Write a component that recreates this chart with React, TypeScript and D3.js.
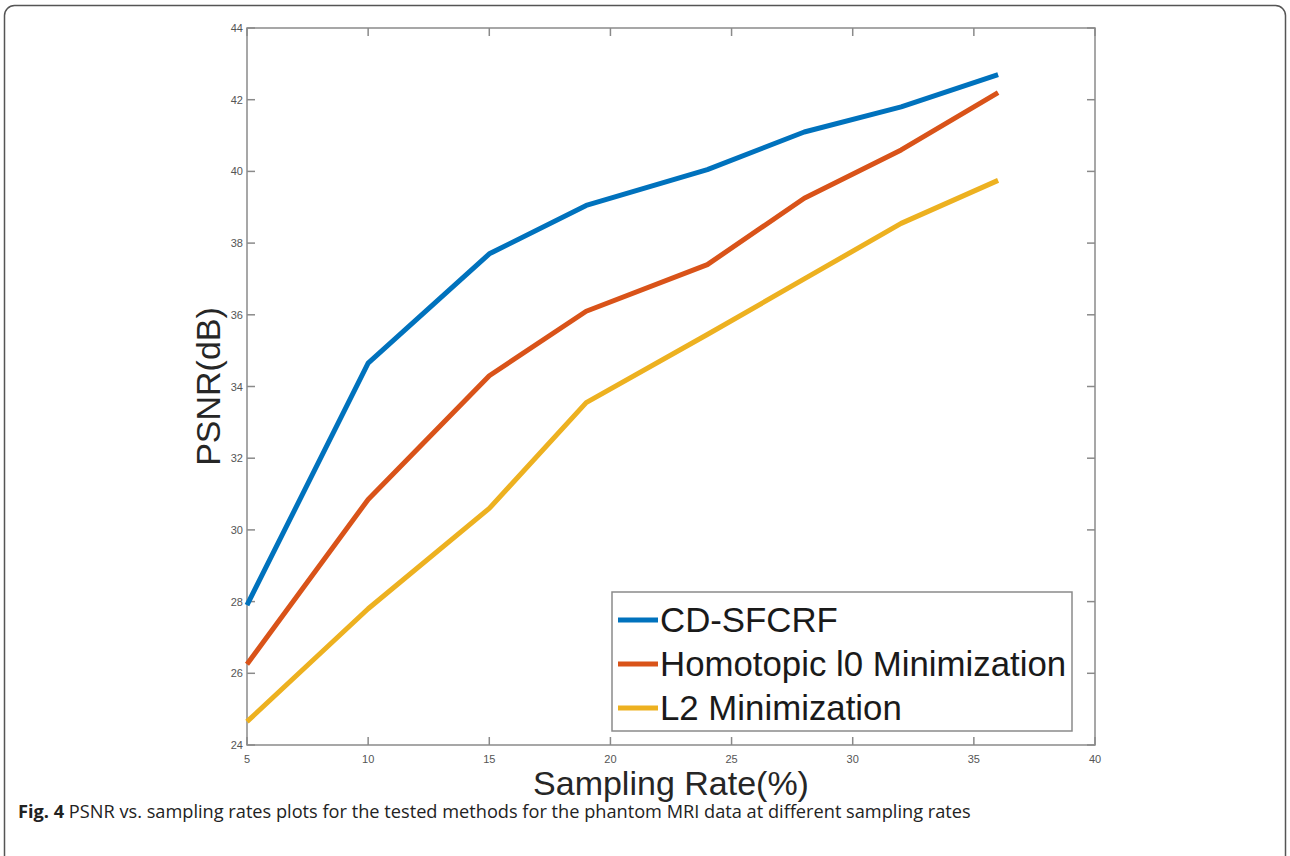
import React from "react";
import * as d3 from "d3";

const samplingRates = [5, 10, 15, 19, 24, 28, 32, 36];
const cdSfcrf = [27.9, 34.65, 37.7, 39.05, 40.05, 41.1, 41.8, 42.7];
const homotopicL0 = [26.25, 30.85, 34.3, 36.1, 37.4, 39.25, 40.6, 42.2];
const l2Min = [24.65, 27.8, 30.6, 33.55, 35.45, 37.0, 38.55, 39.75];
const seriesNames = ["CD-SFCRF", "Homotopic l0 Minimization", "L2 Minimization"];
const seriesColors = ["#0072BD", "#D95319", "#EDB120"];
const xTicks = [5, 10, 15, 20, 25, 30, 35, 40];
const yTicks = [24, 26, 28, 30, 32, 34, 36, 38, 40, 42, 44];

const W = 1290;
const H = 856;
const L = 247, R = 1095, T = 28, B = 745;

export default function App() {
  const x = d3.scaleLinear().domain([5, 40]).range([L, R]);
  const y = d3.scaleLinear().domain([24, 44]).range([B, T]);
  const line = d3
    .line<number>()
    .x((_, i) => x(samplingRates[i]))
    .y((d) => y(d));
  const series = [cdSfcrf, homotopicL0, l2Min];
  const axisColor = "#8a8a8a";
  const tickLen = 8;
  const legend = { x: 612, y: 592, w: 460, h: 139 };
  const rowY = [620, 664, 708];

  return (
    <svg
      width={W}
      height={H}
      style={{ position: "absolute", left: 0, top: 0, background: "#fff" }}
    >
      <rect x={0} y={0} width={W} height={H} fill="#fff" />
      <rect
        x={4.5}
        y={5.5}
        width={1281}
        height={900}
        rx={10}
        ry={10}
        fill="none"
        stroke="#555"
        strokeWidth={1.5}
      />
      {/* axes box */}
      <rect x={L} y={T} width={R - L} height={B - T} fill="none" stroke={axisColor} strokeWidth={1.5} />
      {/* y ticks */}
      {yTicks.map((t) => (
        <g key={"y" + t}>
          <line x1={L} x2={L + tickLen} y1={y(t)} y2={y(t)} stroke={axisColor} strokeWidth={1.5} />
          <line x1={R} x2={R - tickLen} y1={y(t)} y2={y(t)} stroke={axisColor} strokeWidth={1.5} />
          <text
            x={L - 4}
            y={y(t) + 4}
            textAnchor="end"
            fontFamily="Liberation Sans, Arial, sans-serif"
            fontSize={11}
            fill="#555"
          >
            {t}
          </text>
        </g>
      ))}
      {/* x ticks */}
      {xTicks.map((t) => (
        <g key={"x" + t}>
          <line x1={x(t)} x2={x(t)} y1={B} y2={B - tickLen} stroke={axisColor} strokeWidth={1.5} />
          <line x1={x(t)} x2={x(t)} y1={T} y2={T + tickLen} stroke={axisColor} strokeWidth={1.5} />
          <text
            x={x(t)}
            y={B + 18}
            textAnchor="middle"
            fontFamily="Liberation Sans, Arial, sans-serif"
            fontSize={11}
            fill="#555"
          >
            {t}
          </text>
        </g>
      ))}
      {/* lines */}
      {series.map((s, i) => (
        <path
          key={seriesNames[i]}
          d={line(s) || ""}
          fill="none"
          stroke={seriesColors[i]}
          strokeWidth={5}
          strokeLinejoin="round"
        />
      ))}
      {/* axis labels */}
      <text
        x={(L + R) / 2}
        y={795}
        textAnchor="middle"
        fontFamily="Liberation Sans, Arial, sans-serif"
        fontSize={34}
        fill="#262626"
      >
        Sampling Rate(%)
      </text>
      <text
        transform={`translate(220, ${(T + B) / 2}) rotate(-90)`}
        textAnchor="middle"
        fontFamily="Liberation Sans, Arial, sans-serif"
        fontSize={34}
        fill="#262626"
      >
        PSNR(dB)
      </text>
      {/* legend */}
      <rect
        x={legend.x}
        y={legend.y}
        width={legend.w}
        height={legend.h}
        fill="#fff"
        stroke="#8a8a8a"
        strokeWidth={1.5}
      />
      {seriesNames.map((n, i) => (
        <g key={"lg" + n}>
          <line
            x1={legend.x + 6}
            x2={legend.x + 46}
            y1={rowY[i]}
            y2={rowY[i]}
            stroke={seriesColors[i]}
            strokeWidth={5}
          />
          <text
            x={legend.x + 48}
            y={rowY[i] + 12}
            fontFamily="Liberation Sans, Arial, sans-serif"
            fontSize={34.8}
            fill="#1a1a1a"
          >
            {n}
          </text>
        </g>
      ))}
      {/* caption */}
      <text x={18} y={818} fontFamily="Open Sans, Noto Sans, sans-serif" fontSize={18.2} fill="#222">
        <tspan fontWeight="bold">Fig. 4</tspan>
        <tspan> PSNR vs. sampling rates plots for the tested methods for the phantom MRI data at different sampling rates</tspan>
      </text>
    </svg>
  );
}
